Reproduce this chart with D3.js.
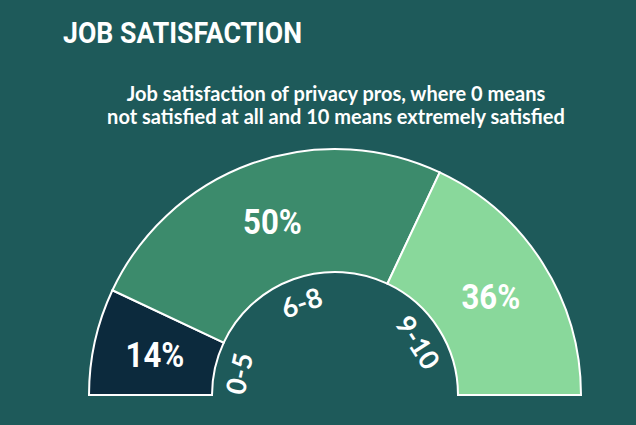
<!DOCTYPE html>
<html>
<head>
<meta charset="utf-8">
<script src="https://cdn.jsdelivr.net/npm/d3@7"></script>
<style>
  html, body { margin: 0; padding: 0; background: #1e5a5a; }
  svg { display: block; }
</style>
</head>
<body>
<svg width="636" height="425"></svg>
<script>
// chart data
const categories = ['0-5', '6-8', '9-10'];
const shares = [14, 50, 36];
const colors = ['#0c2a3d', '#3c8b6c', '#89d89b'];

const title = 'JOB SATISFACTION';
const subtitle = [
  'Job satisfaction of privacy pros, where 0 means',
  'not satisfied at all and 10 means extremely satisfied'
];

const svg = d3.select('svg');
const cx = 335, cy = 395;
const outerR = 246, innerR = 123;
const narrow = 0.89; // fake a condensed face

svg.append('rect')
  .attr('width', 636).attr('height', 425)
  .attr('fill', '#1e5a5a');

svg.append('text')
  .attr('transform', `translate(63,43) scale(${narrow},1)`)
  .attr('fill', '#fff')
  .style('font-family', 'Roboto, sans-serif')
  .style('font-weight', 'bold')
  .style('font-size', '30px')
  .text(title);

svg.selectAll('text.sub')
  .data(subtitle)
  .enter()
  .append('text')
  .attr('class', 'sub')
  .attr('x', 336)
  .attr('y', (_, i) => 101 + i * 23)
  .attr('text-anchor', 'middle')
  .attr('fill', '#fff')
  .style('font-family', 'Lato, "Open Sans", sans-serif')
  .style('font-weight', 'bold')
  .style('font-size', '20px')
  .text(d => d);

const pie = d3.pie()
  .sort(null)
  .value(d => d)
  .startAngle(-Math.PI / 2)
  .endAngle(Math.PI / 2);

const arcs = pie(shares);

const arc = d3.arc().innerRadius(innerR).outerRadius(outerR);
const labelArc = d3.arc().innerRadius(98).outerRadius(98);

const g = svg.append('g').attr('transform', `translate(${cx},${cy})`);

g.selectAll('path')
  .data(arcs)
  .enter()
  .append('path')
  .attr('d', arc)
  .attr('fill', (_, i) => colors[i])
  .attr('stroke', '#fff')
  .attr('stroke-width', 2)
  .attr('stroke-linejoin', 'miter');

// percentage labels
g.selectAll('text.pct')
  .data(arcs)
  .enter()
  .append('text')
  .attr('class', 'pct')
  .attr('transform', d => `translate(${arc.centroid(d)}) scale(${narrow},1)`)
  .attr('text-anchor', 'middle')
  .attr('dy', '0.36em')
  .attr('fill', '#fff')
  .style('font-family', 'Roboto, sans-serif')
  .style('font-weight', 'bold')
  .style('font-size', '35px')
  .text(d => d.data + '%');

// category labels, along the inner edge
g.selectAll('text.cat')
  .data(arcs)
  .enter()
  .append('text')
  .attr('class', 'cat')
  .attr('transform', d => {
    const mid = (d.startAngle + d.endAngle) / 2;
    return `translate(${labelArc.centroid(d)}) rotate(${mid * 180 / Math.PI})`;
  })
  .attr('text-anchor', 'middle')
  .attr('dy', '0.36em')
  .attr('fill', '#fff')
  .style('font-family', 'Lato, "Open Sans", sans-serif')
  .style('font-weight', 'bold')
  .style('font-size', '27px')
  .text((_, i) => categories[i]);
</script>
</body>
</html>
